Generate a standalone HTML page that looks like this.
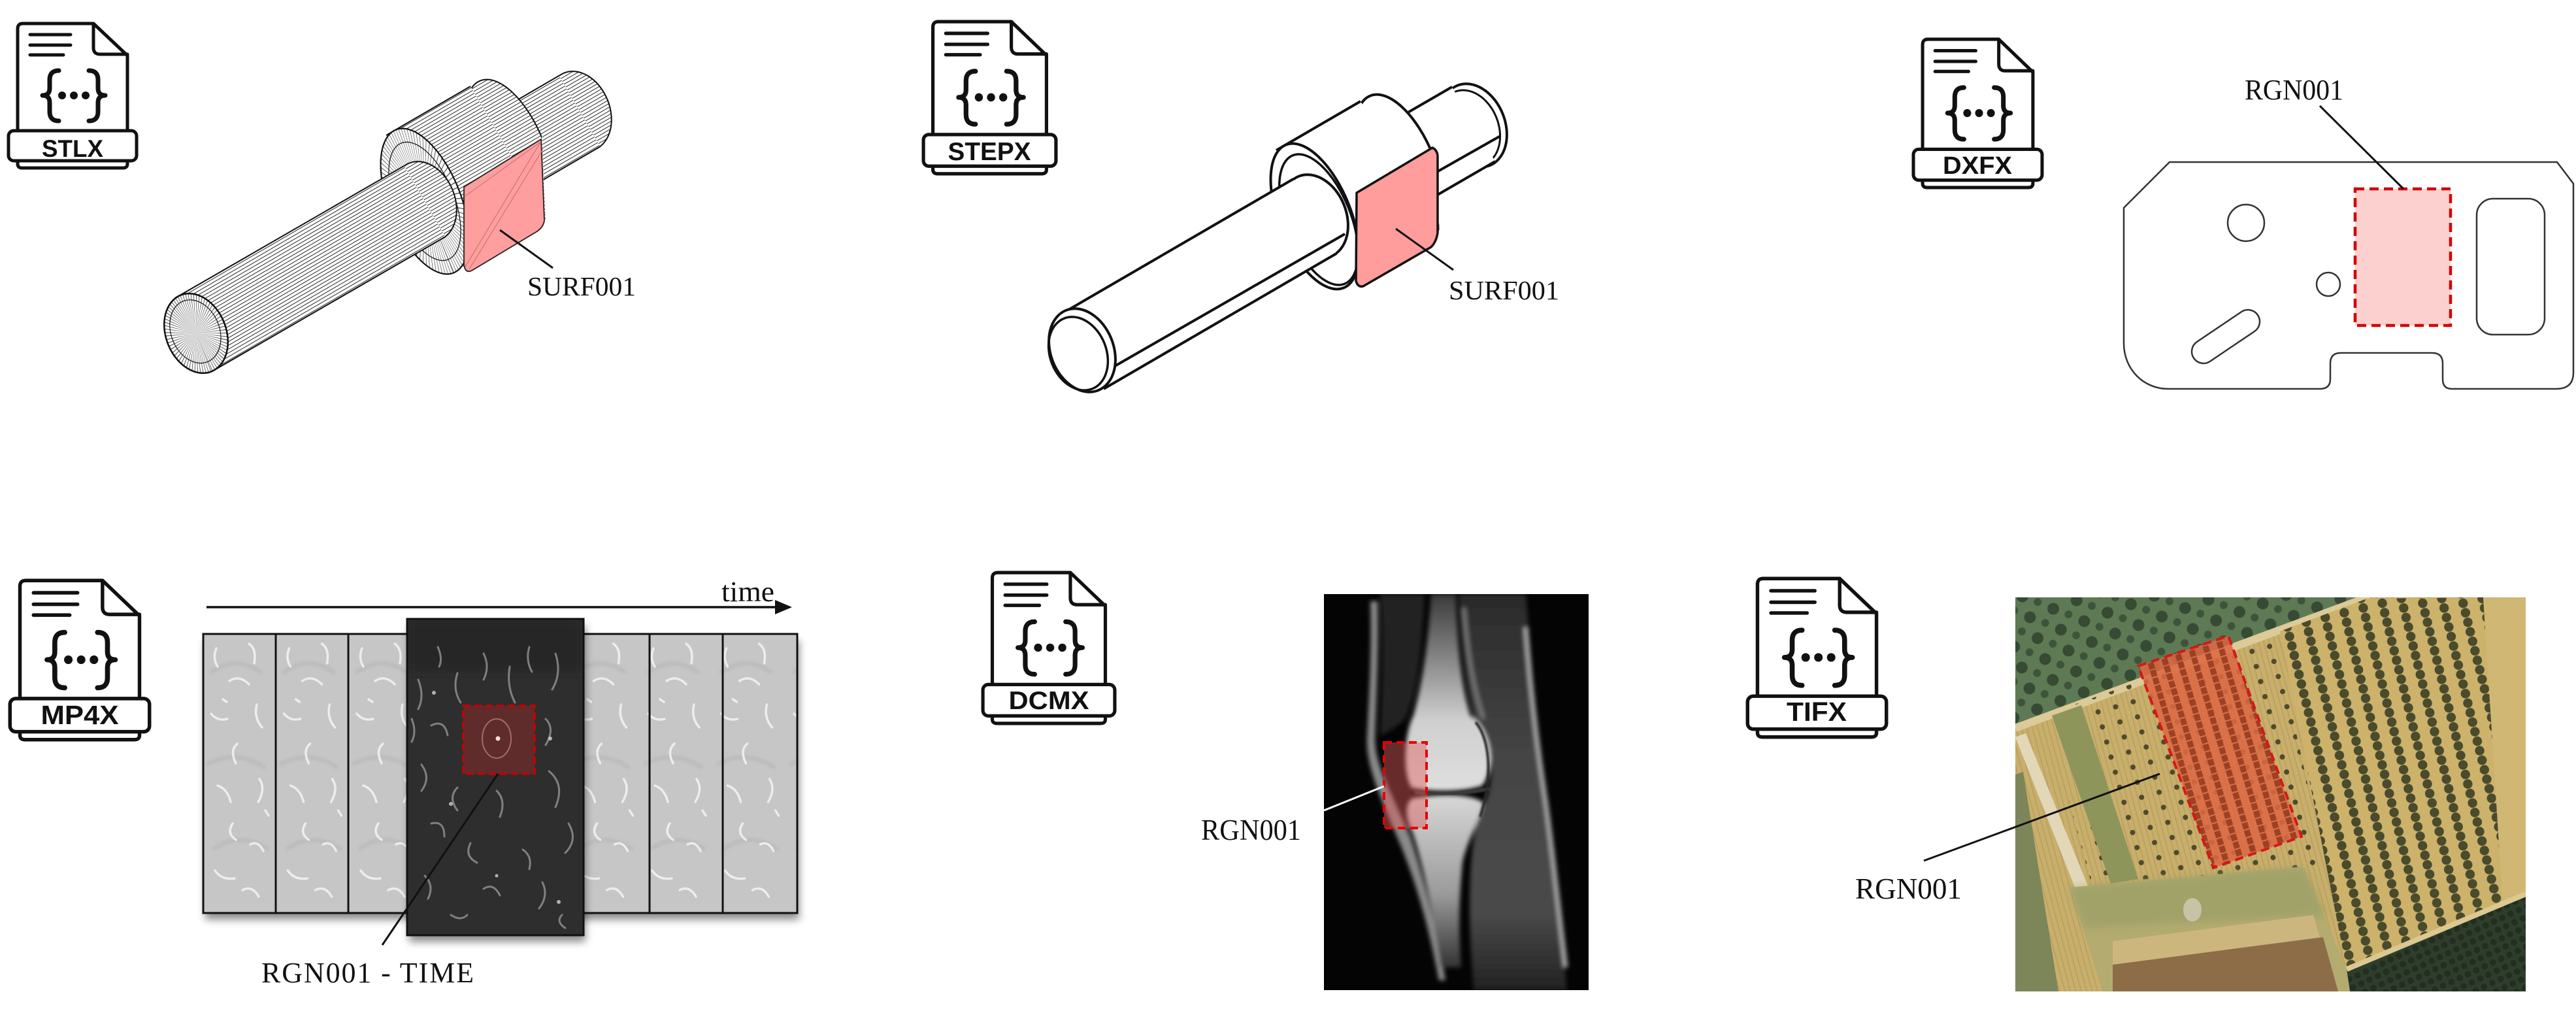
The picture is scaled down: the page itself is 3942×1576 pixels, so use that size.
<!DOCTYPE html>
<html><head><meta charset="utf-8">
<style>
html,body{margin:0;padding:0;background:#fff;}
svg{display:block;}
.lbl{font-family:"Liberation Serif","Times New Roman",serif;fill:#111;}
.ico{font-family:"Liberation Sans",Arial,sans-serif;font-weight:bold;fill:#111;text-anchor:middle;}
</style></head><body>
<svg width="3942" height="1576" viewBox="0 0 3942 1576" xmlns="http://www.w3.org/2000/svg" xmlns:xlink="http://www.w3.org/1999/xlink">
<defs>
  <symbol id="icon" viewBox="0 0 202 227" preserveAspectRatio="none">
    <g fill="none" stroke="#111" stroke-width="5" stroke-linecap="round" stroke-linejoin="round">
      <path d="M25,3 H133 L185,52 V218 Q185,224 178,224 H24 Q17,224 17,218 V11 Q17,3 25,3 Z" fill="#fff"/>
      <path d="M133,3 V40 Q133,50 143,50 H185"/>
      <path d="M36,20 H98 M36,36 H98 M36,51 H87"/>
      <path stroke-width="7" d="M80,75 Q66,75 66,89 V102 Q66,113 55,113 Q66,113 66,124 V138 Q66,152 80,152"/>
      <path stroke-width="7" d="M126,75 Q140,75 140,89 V102 Q140,113 151,113 Q140,113 140,124 V138 Q140,152 126,152"/>
      <rect x="3" y="167" width="196" height="46" rx="8" fill="#fff"/>
    </g>
    <circle cx="85" cy="113" r="6" fill="#111"/>
    <circle cx="103" cy="113" r="6" fill="#111"/>
    <circle cx="121" cy="113" r="6" fill="#111"/>
  </symbol>

  <pattern id="hatch" patternUnits="userSpaceOnUse" width="40" height="5" patternTransform="rotate(-30.1)">
    <rect width="40" height="5" fill="#fff"/>
    <rect y="2" width="40" height="1" fill="#2a2a2a"/>
  </pattern>
  <pattern id="hatchE" patternUnits="userSpaceOnUse" width="40" height="5" patternTransform="rotate(-98.1)">
    <rect width="40" height="5" fill="#fff"/>
    <rect y="2" width="40" height="1" fill="#2a2a2a"/>
  </pattern>

  <clipPath id="clipStl"><polygon points="400,0 826,0 829,213 835,337 717,416 600,470 400,470"/></clipPath>
  <clipPath id="clipStep"><polygon points="1800,0 2194,0 2198,227 2203,365 2090,442 2000,480 1800,480"/></clipPath>

  <filter id="shadow" x="-10%" y="-10%" width="130%" height="130%">
    <feGaussianBlur in="SourceAlpha" stdDeviation="6"/>
    <feOffset dx="3" dy="10" result="b"/>
    <feFlood flood-color="#000" flood-opacity="0.45"/>
    <feComposite in2="b" operator="in"/>
    <feMerge><feMergeNode/><feMergeNode in="SourceGraphic"/></feMerge>
  </filter>
  <filter id="bl1"><feGaussianBlur stdDeviation="1.2"/></filter>
  <filter id="bl2"><feGaussianBlur stdDeviation="2"/></filter>
  <filter id="bl3" x="-20%" y="-20%" width="140%" height="140%"><feGaussianBlur stdDeviation="3.5"/></filter>
  <filter id="bl6" x="-20%" y="-20%" width="140%" height="140%"><feGaussianBlur stdDeviation="6"/></filter>

  <pattern id="ftex" patternUnits="userSpaceOnUse" x="311" y="970" width="111.5" height="427">
    <rect width="111.5" height="427" fill="#c6c6c6"/>
    <g fill="none" stroke="#b4b4b4" stroke-width="6" opacity="0.6" filter="url(#bl2)">
      <path d="M10,60 q40,-30 80,0"/><path d="M5,200 q45,-25 90,5"/><path d="M15,330 q40,-30 85,0"/>
    </g>
    <g fill="none" stroke="#f4f4f4" stroke-width="3.5" stroke-linecap="round" opacity="0.85">
      <path d="M20,22 q-6,15 2,28"/><path d="M70,15 q12,8 8,30"/><path d="M40,72 q15,-10 30,5"/>
      <path d="M12,122 q10,12 25,8"/><path d="M82,108 q-5,20 8,35"/><path d="M52,168 q-12,10 -2,30"/>
      <path d="M22,232 q15,5 20,25"/><path d="M86,222 q10,15 -2,35"/><path d="M45,290 q-10,15 5,25"/>
      <path d="M72,322 q12,-6 20,10"/><path d="M18,362 q10,15 30,12"/><path d="M60,392 q15,-8 25,10"/>
      <path d="M30,100 l6,4"/><path d="M95,270 l5,8"/>
    </g>
  </pattern>

  <clipPath id="clipDark"><rect x="623" y="947" width="270" height="484"/></clipPath>
  <clipPath id="clipMri"><rect x="2026" y="909" width="405" height="606"/></clipPath>
  <clipPath id="clipAer"><rect x="3084" y="914" width="781" height="603"/></clipPath>

  <linearGradient id="femG" gradientUnits="userSpaceOnUse" x1="0" y1="909" x2="0" y2="1205">
    <stop offset="0" stop-color="#3a3a3a"/><stop offset="0.35" stop-color="#8a8a8a"/><stop offset="0.65" stop-color="#cfcfcf"/><stop offset="1" stop-color="#dedede"/>
  </linearGradient>
  <linearGradient id="tibG" gradientUnits="userSpaceOnUse" x1="0" y1="1220" x2="0" y2="1490">
    <stop offset="0" stop-color="#d6d6d6"/><stop offset="0.55" stop-color="#9a9a9a"/><stop offset="1" stop-color="#2a2a2a"/>
  </linearGradient>
  <linearGradient id="musG" gradientUnits="userSpaceOnUse" x1="0" y1="909" x2="0" y2="1515">
    <stop offset="0" stop-color="#2a2a2a"/><stop offset="0.4" stop-color="#444"/><stop offset="0.8" stop-color="#4a4a4a"/><stop offset="1" stop-color="#222"/>
  </linearGradient>

  <pattern id="trees" patternUnits="userSpaceOnUse" width="30" height="15" patternTransform="rotate(-14)">
    <circle cx="14" cy="7.5" r="7.2" fill="#4a4a2c"/>
  </pattern>
  <pattern id="gtrees" patternUnits="userSpaceOnUse" width="38" height="34" patternTransform="rotate(-20)">
    <circle cx="12" cy="12" r="9" fill="#2c3f2c" opacity="0.8"/>
    <circle cx="31" cy="28" r="6" fill="#2c3f2c" opacity="0.65"/>
  </pattern>
  <pattern id="strees" patternUnits="userSpaceOnUse" width="28" height="24" patternTransform="rotate(-16)">
    <circle cx="14" cy="12" r="4" fill="#4f4a2b"/>
  </pattern>
  <pattern id="redrows" patternUnits="userSpaceOnUse" width="22" height="12" patternTransform="rotate(-17)">
    <rect x="8" y="0" width="9" height="10" fill="#93381f" opacity="0.85"/>
  </pattern>
  <pattern id="stub" patternUnits="userSpaceOnUse" width="8" height="10" patternTransform="rotate(-15)">
    <rect x="3" width="1.6" height="10" fill="#a88f52" opacity="0.5"/>
  </pattern>
  <pattern id="forest" patternUnits="userSpaceOnUse" width="14" height="14" patternTransform="rotate(-25)">
    <circle cx="7" cy="7" r="5" fill="#1e2a1d" opacity="0.8"/>
  </pattern>
</defs>

<rect width="3942" height="1576" fill="#fff"/>

<!-- ================= ICONS ================= -->
<use xlink:href="#icon" href="#icon" x="10" y="33" width="202" height="227"/>
<text class="ico" x="111" y="240" font-size="37" textLength="94" lengthAdjust="spacingAndGlyphs">STLX</text>

<use xlink:href="#icon" href="#icon" x="1410" y="30" width="209" height="239"/>
<text class="ico" x="1514" y="245" font-size="39" textLength="127" lengthAdjust="spacingAndGlyphs">STEPX</text>

<use xlink:href="#icon" href="#icon" x="2925" y="57" width="203" height="233"/>
<text class="ico" x="3026" y="266" font-size="38" textLength="106" lengthAdjust="spacingAndGlyphs">DXFX</text>

<use xlink:href="#icon" href="#icon" x="12" y="885" width="220" height="250"/>
<text class="ico" x="122" y="1108" font-size="41" textLength="119" lengthAdjust="spacingAndGlyphs">MP4X</text>

<use xlink:href="#icon" href="#icon" x="1501" y="873" width="208" height="237"/>
<text class="ico" x="1605" y="1085" font-size="39" textLength="123" lengthAdjust="spacingAndGlyphs">DCMX</text>

<use xlink:href="#icon" href="#icon" x="2671" y="882" width="219" height="249"/>
<text class="ico" x="2780" y="1103" font-size="41" textLength="92" lengthAdjust="spacingAndGlyphs">TIFX</text>

<!-- ================= STL OBJECT ================= -->
<g stroke="#111" stroke-width="2" stroke-linejoin="round">
  <ellipse transform="translate(887,170) rotate(68)" rx="63" ry="46" fill="url(#hatchE)"/>
  <polygon points="747.5,178.8 855.5,115.8 918.5,224.2 810.5,287.2" fill="url(#hatch)" stroke="none"/>
  <path d="M747.5,178.8 L855.5,115.8 M810.5,287.2 L918.5,224.2" fill="none"/>
  <g clip-path="url(#clipStl)">
    <ellipse transform="translate(779,233) rotate(68)" rx="118" ry="55" fill="url(#hatchE)"/>
    <polygon points="591,207 720,132 838,334 709,409" fill="url(#hatch)" stroke="none"/>
    <path d="M591,207 L720,132" fill="none"/>
    <g transform="translate(650,308) rotate(68)">
      <ellipse rx="118" ry="55" fill="#fff"/>
      <g transform="scale(1,0.466)"><circle r="59" fill="none" stroke="#555" stroke-width="118" stroke-dasharray="0.8 3.6"/></g>
      <ellipse rx="118" ry="55" fill="none"/>
      <ellipse rx="96" ry="45" fill="none" stroke-width="1.2"/>
    </g>
  </g>
  <path d="M710,286 L828,213 L833,337 Q832,347 822,354 L722,414 Q712,419 710,405 Z" fill="#ff9e9e" stroke="#222" stroke-width="1.8"/>
  <path d="M712,408 L828,216 M718,412 L831,228 M712,300 L826,218" stroke="#c96a6a" stroke-width="1" fill="none"/>
  <ellipse transform="translate(650,308) rotate(68)" rx="63" ry="46" fill="url(#hatchE)"/>
  <polygon points="268.5,455.8 618.5,253.8 681.5,362.2 331.5,564.2" fill="url(#hatch)" stroke="none"/>
  <path d="M268.5,455.8 L618.5,253.8 M331.5,564.2 L681.5,362.2" fill="none"/>
  <g transform="translate(300,510) rotate(68)">
    <ellipse rx="63" ry="46" fill="#fff"/>
    <g transform="scale(1,0.73)"><circle r="31.5" fill="none" stroke="#444" stroke-width="63" stroke-dasharray="0.6 2.2"/></g>
    <ellipse rx="63" ry="46" fill="none" stroke-width="2.5"/>
    <ellipse cx="-3" rx="50" ry="37" fill="none" stroke-width="1.2"/>
  </g>
</g>
<line x1="846" y1="410" x2="765" y2="352" stroke="#111" stroke-width="3"/>
<text class="lbl" x="807" y="452" font-size="41" textLength="166" lengthAdjust="spacingAndGlyphs">SURF001</text>

<!-- ================= STEP OBJECT ================= -->
<g stroke="#111" stroke-width="4" stroke-linejoin="round" fill="#fff">
  <ellipse transform="translate(2255,192) rotate(68)" rx="66" ry="48"/>
  <ellipse transform="translate(2249,196) rotate(68)" rx="60" ry="44" fill="none" stroke-width="3"/>
  <polygon points="2108,199 2222,133 2288,247 2174,313" stroke="none"/>
  <path d="M2108,199 L2222,133 M2174,313 L2288,247 M2160,285 L2296,208" fill="none"/>
  <g clip-path="url(#clipStep)">
    <ellipse transform="translate(2141,256) rotate(68)" rx="118" ry="55"/>
    <polygon points="1953,230 2082,155 2200,357 2071,432" stroke="none"/>
    <path d="M1953,230 L2082,155" fill="none"/>
    <ellipse transform="translate(2012,331) rotate(68)" rx="118" ry="55"/>
    <ellipse transform="translate(2018,336) rotate(68)" rx="106" ry="49" fill="none" stroke-width="3.5"/>
  </g>
  <path d="M2076,295 L2192,226 Q2200,230 2200,240 L2200,356 Q2198,370 2190,378 L2086,438 Q2078,440 2075,430 Z" fill="#ff9c9c" stroke="#111" stroke-width="3.5"/>
  <ellipse transform="translate(2012,331) rotate(68)" rx="66" ry="48"/>
  <polygon points="1623,481 1979,274 2045,388 1689,595" stroke="none"/>
  <path d="M1623,481 L1979,274 M1689,595 L2045,388 M1701,563 L2058,358" fill="none"/>
  <ellipse transform="translate(1656,536) rotate(68)" rx="66" ry="48"/>
  <ellipse transform="translate(1650,541) rotate(68)" rx="58" ry="43" fill="none" stroke-width="3.5"/>
</g>
<line x1="2224" y1="413" x2="2136" y2="350" stroke="#111" stroke-width="3"/>
<text class="lbl" x="2217" y="458" font-size="41" textLength="169" lengthAdjust="spacingAndGlyphs">SURF001</text>

<!-- ================= DXF PLATE ================= -->
<g fill="none" stroke="#333" stroke-width="2.5">
  <path d="M3320,248 H3913 L3938,281 V570 Q3938,595 3912,595 H3752 Q3738,595 3738,580 V556 Q3738,540 3722,540 H3582 Q3566,540 3566,556 V580 Q3566,595 3550,595 H3318 C3280,595 3250,565 3250,525 V318 Z"/>
  <circle cx="3437" cy="341" r="28"/>
  <circle cx="3563" cy="435" r="18"/>
  <rect x="3347" y="497" width="118" height="36" rx="18" transform="rotate(-34 3406 515)"/>
  <rect x="3790" y="304" width="104" height="208" rx="25"/>
</g>
<rect x="3604" y="289" width="146" height="209" fill="#fdd0d0" stroke="#d40000" stroke-width="4.5" stroke-dasharray="14 8"/>
<line x1="3550" y1="162" x2="3678" y2="289" stroke="#111" stroke-width="3"/>
<text class="lbl" x="3435" y="152" font-size="44" textLength="151" lengthAdjust="spacingAndGlyphs">RGN001</text>

<!-- ================= MP4 ================= -->
<line x1="316" y1="929" x2="1192" y2="929" stroke="#111" stroke-width="3.5"/>
<polygon points="1212,929 1186,918 1186,940" fill="#111"/>
<text class="lbl" x="1104" y="920" font-size="44" textLength="81" lengthAdjust="spacingAndGlyphs">time</text>

<rect x="311" y="970" width="909" height="427" fill="#c4c4c4" filter="url(#shadow)"/>
<rect x="311" y="970" width="909" height="427" fill="url(#ftex)"/>
<g stroke="#111" stroke-width="3" fill="none">
  <rect x="311" y="970" width="909" height="427"/>
  <path d="M422,970 V1397 M533,970 V1397 M994,970 V1397 M1106,970 V1397"/>
</g>
<rect x="623" y="947" width="270" height="484" fill="#2e2e2e" filter="url(#shadow)"/>
<g clip-path="url(#clipDark)">
  <rect x="623" y="947" width="270" height="80" fill="#262626" filter="url(#bl6)"/>
  <g fill="none" stroke="#9c9c9c" stroke-width="3" stroke-linecap="round" opacity="0.75">
    <path d="M640,1040 q10,25 0,45"/><path d="M700,1030 q-8,25 5,45"/><path d="M780,1020 q-5,30 8,55"/>
    <path d="M850,1000 q10,30 -5,55"/><path d="M660,1110 q20,-10 25,15"/><path d="M835,1100 q15,15 0,40"/>
    <path d="M645,1170 q15,20 0,40"/><path d="M700,1205 q-15,15 0,35"/><path d="M760,1210 q15,15 5,40"/>
    <path d="M840,1180 q25,20 10,55"/><path d="M870,1260 q15,25 -5,45"/><path d="M660,1260 q20,-5 20,20"/>
    <path d="M720,1290 q-10,20 10,30"/><path d="M800,1300 q15,10 10,30"/><path d="M650,1340 q15,15 5,35"/>
    <path d="M740,1360 q15,-10 25,10"/><path d="M830,1350 q10,20 -5,40"/><path d="M690,1400 q15,10 25,0"/>
    <path d="M860,1400 q-10,10 5,20"/><path d="M630,1100 q8,20 0,35"/>
    <path d="M740,1000 q10,20 0,40"/><path d="M810,990 q-6,20 4,38"/><path d="M670,990 q8,18 2,30"/>
  </g>
  <g fill="#e8e8e8" opacity="0.7">
    <circle cx="664" cy="1060" r="3"/><circle cx="842" cy="1130" r="3"/><circle cx="690" cy="1230" r="3"/>
    <circle cx="855" cy="1380" r="3"/><circle cx="760" cy="1340" r="2.5"/>
  </g>
</g>
<rect x="623" y="947" width="270" height="484" fill="none" stroke="#111" stroke-width="3"/>
<rect x="709" y="1080" width="109" height="104" fill="#8a2a2a" fill-opacity="0.55" stroke="#c80000" stroke-width="3.5" stroke-dasharray="11 6"/>
<ellipse cx="760" cy="1130" rx="22" ry="30" fill="none" stroke="#c99" stroke-width="2" opacity="0.6"/>
<circle cx="762" cy="1130" r="3.5" fill="#fdd"/>
<line x1="762" y1="1184" x2="585" y2="1446" stroke="#111" stroke-width="3"/>
<text class="lbl" x="400" y="1503" font-size="44" textLength="325" lengthAdjust="spacing">RGN001 - TIME</text>

<!-- ================= MRI ================= -->
<g clip-path="url(#clipMri)">
  <rect x="2026" y="909" width="405" height="606" fill="#040404"/>
  <g filter="url(#bl3)">
    <path d="M2232,909 L2335,909 C2342,1000 2350,1100 2362,1200 C2375,1300 2385,1400 2398,1515 L2255,1515 C2248,1420 2244,1330 2262,1245 C2290,1210 2288,1140 2258,1105 C2242,1050 2235,980 2232,909 Z" fill="url(#musG)"/>
    <path d="M2335,960 C2342,1050 2352,1140 2366,1230 C2378,1320 2386,1400 2396,1480" fill="none" stroke="#a8a8a8" stroke-width="7"/>
    <path d="M2240,930 C2245,990 2252,1045 2270,1100" fill="none" stroke="#777" stroke-width="6"/>
    <path d="M2112,909 L2180,909 C2175,1000 2170,1060 2150,1100 C2140,1110 2125,1120 2112,1125 C2115,1050 2118,980 2112,909 Z" fill="#222"/>
    <path d="M2097,920 C2100,1000 2094,1080 2092,1130 C2090,1170 2112,1220 2142,1290 C2167,1350 2187,1420 2202,1500 L2212,1500 C2198,1420 2178,1340 2158,1280 C2128,1210 2104,1170 2104,1130 C2106,1070 2110,1000 2108,920 Z" fill="#8a8a8a"/>
    <path d="M2190,909 L2228,909 C2230,990 2236,1050 2250,1095 C2280,1115 2292,1170 2268,1202 C2240,1212 2190,1212 2160,1205 C2145,1180 2150,1120 2163,1095 C2178,1040 2186,980 2190,909 Z" fill="url(#femG)"/>
    <path d="M2160,1222 C2200,1214 2250,1214 2270,1228 C2262,1262 2245,1285 2238,1320 C2232,1380 2232,1430 2236,1480 L2205,1480 C2195,1410 2180,1330 2162,1275 C2150,1250 2150,1232 2160,1222 Z" fill="url(#tibG)"/>
  </g>
  <path d="M2165,1212 C2200,1218 2240,1215 2282,1206" stroke="#3a3a3a" stroke-width="6" fill="none" filter="url(#bl1)"/>
  <path d="M2258,1105 C2280,1130 2285,1190 2265,1250" stroke="#2a2a2a" stroke-width="4" fill="none" filter="url(#bl1)"/>
</g>
<rect x="2118" y="1136" width="65" height="131" fill="#e05a5a" fill-opacity="0.45" stroke="#e60000" stroke-width="4" stroke-dasharray="12 7"/>
<line x1="2026" y1="1240" x2="2118" y2="1203" stroke="#fff" stroke-width="3"/>
<text class="lbl" x="1838" y="1285" font-size="45" textLength="153" lengthAdjust="spacingAndGlyphs">RGN001</text>

<!-- ================= AERIAL ================= -->
<g clip-path="url(#clipAer)">
  <rect x="3084" y="914" width="781" height="603" fill="#c8af6c"/>
  <rect x="3084" y="914" width="781" height="603" fill="url(#stub)"/>
  <polygon points="3084,914 3622,914 3084,1112" fill="#5d7a55"/>
  <polygon points="3084,914 3622,914 3084,1112" fill="url(#gtrees)"/>
  <line x1="3084" y1="1114" x2="3626" y2="913" stroke="#dcca98" stroke-width="12"/>
  <polygon points="3489,966 3622,916 3865,914 3865,1370 3591,1483" fill="#ccb26b"/>
  <polygon points="3489,966 3622,916 3800,914 3830,1384 3591,1483" fill="url(#trees)"/>
  <polygon points="3800,914 3865,914 3865,1370 3830,1384" fill="#d2ba7a" opacity="0.6"/>
  <polygon points="3591,1483 3865,1370 3865,1517 3596,1517" fill="#2f3d2c"/>
  <polygon points="3591,1483 3865,1370 3865,1517 3596,1517" fill="url(#forest)"/>
  <line x1="3591" y1="1483" x2="3865" y2="1368" stroke="#dcc890" stroke-width="8"/>
  <polygon points="3130,1094 3480,968 3560,1330 3200,1350" fill="url(#strees)"/>
  <polygon points="3140,1095 3185,1079 3272,1345 3230,1352" fill="#8d955a"/>
  <polygon points="3084,1128 3100,1122 3197,1360 3178,1365" fill="#e2d8b8"/>
  <polygon points="3084,1185 3096,1181 3150,1517 3084,1517" fill="#7c8658"/>
  <polygon points="3167,1358 3525,1326 3591,1483 3596,1517 3218,1517" fill="#b3ab70"/>
  <polygon points="3167,1358 3525,1326 3560,1400 3190,1420" fill="#8f9a62" opacity="0.5" filter="url(#bl6)"/>
  <polygon points="3233,1476 3555,1434 3578,1517 3233,1517" fill="#8d6d48"/>
  <polygon points="3233,1440 3540,1400 3550,1434 3233,1476" fill="#cdb67e"/>
  <ellipse cx="3355" cy="1392" rx="14" ry="18" fill="#d8d0c0" opacity="0.7"/>
  <polygon points="3272,1019 3410,973 3522,1280 3387,1328" fill="#dc6943" fill-opacity="0.88"/>
  <polygon points="3272,1019 3410,973 3522,1280 3387,1328" fill="url(#redrows)"/>
  <polygon points="3272,1019 3410,973 3522,1280 3387,1328" fill="none" stroke="#d41818" stroke-width="4" stroke-dasharray="13 8"/>
</g>
<line x1="3305" y1="1184" x2="2944" y2="1317" stroke="#111" stroke-width="3"/>
<text class="lbl" x="2839" y="1375" font-size="46" textLength="163" lengthAdjust="spacingAndGlyphs">RGN001</text>

</svg>
</body></html>
